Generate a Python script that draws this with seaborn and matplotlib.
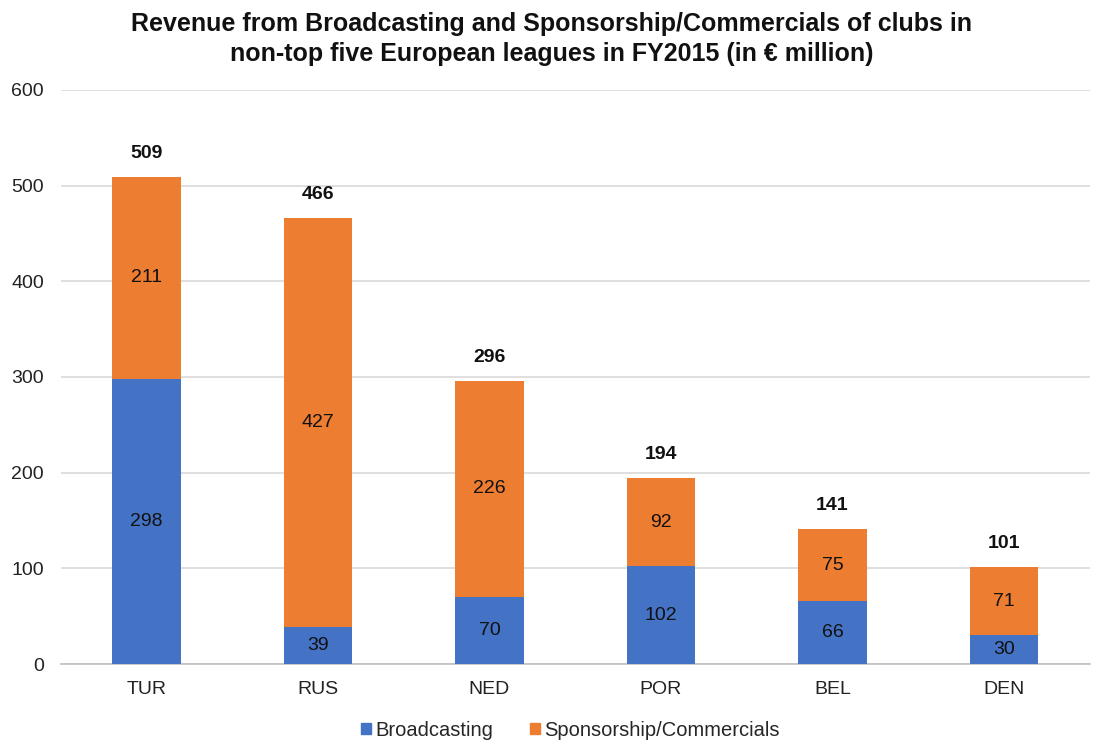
import matplotlib
matplotlib.use("Agg")
import matplotlib.pyplot as plt
import seaborn as sns
import pandas as pd
from matplotlib.patches import Patch

leagues = ["TUR", "RUS", "NED", "POR", "BEL", "DEN"]
broadcasting = [298, 39, 70, 102, 66, 30]
sponsorship = [211, 427, 226, 92, 75, 71]
totals = [509, 466, 296, 194, 141, 101]
y_ticks = [0, 100, 200, 300, 400, 500, 600]

BLUE = "#4472C4"
ORANGE = "#ED7D31"

sns.set_theme(style="white")
plt.rcParams["font.family"] = ["Liberation Sans", "DejaVu Sans"]

df = pd.DataFrame({
    "league": leagues,
    "broadcasting": broadcasting,
    "sponsorship": sponsorship,
    "total": totals,
})

fig = plt.figure(figsize=(11.03, 7.42), dpi=100)
ax = fig.add_axes([0.055, 0.105, 0.933, 0.774])

# stacked bars: full height in orange, broadcasting part overlaid in blue
sns.barplot(data=df, x="league", y="total", color=ORANGE, width=0.4,
            saturation=1, linewidth=0, ax=ax, zorder=2)
sns.barplot(data=df, x="league", y="broadcasting", color=BLUE, width=0.4,
            saturation=1, linewidth=0, ax=ax, zorder=3)

for i, (b, s, t) in enumerate(zip(broadcasting, sponsorship, totals)):
    ax.text(i, b / 2, str(b), ha="center", va="center", fontsize=14,
            color="#111111", zorder=4)
    ax.text(i, b + s / 2, str(s), ha="center", va="center", fontsize=14,
            color="#111111", zorder=4)
    ax.annotate(str(t), (i, t), xytext=(0, 17), textcoords="offset points",
                ha="center", va="center", fontsize=14, fontweight="bold",
                color="#111111")

ax.set_ylim(0, 600)
ax.set_xlim(-0.5, len(leagues) - 0.5)
ax.set_yticks(y_ticks)
ax.set_yticklabels([str(v) for v in y_ticks])
ax.yaxis.grid(True, color="#D9D9D9", linewidth=1.2, zorder=0)
ax.set_axisbelow(True)
ax.set_xlabel("")
ax.set_ylabel("")
ax.tick_params(axis="y", length=0, pad=12, labelsize=14, labelcolor="#222222")
ax.tick_params(axis="x", length=0, pad=12, labelsize=14, labelcolor="#222222")
for side in ["top", "right", "left"]:
    ax.spines[side].set_visible(False)
ax.spines["bottom"].set_color("#BFBFBF")
ax.spines["bottom"].set_linewidth(1.2)

fig.text(0.5, 0.984,
         "Revenue from Broadcasting and Sponsorship/Commercials of clubs in\n"
         "non-top five European leagues in FY2015 (in \u20ac million)",
         ha="center", va="top", fontsize=18, fontweight="bold",
         linespacing=1.32, color="#111111")

handles = [Patch(color=BLUE, label="Broadcasting"),
           Patch(color=ORANGE, label="Sponsorship/Commercials")]
fig.legend(handles=handles, loc="center", bbox_to_anchor=(0.517, 0.016),
           ncol=2, frameon=False, fontsize=14.5, handlelength=0.5,
           handleheight=0.5, handletextpad=0.2, columnspacing=1.8)

fig.savefig("out.png", dpi=100)
